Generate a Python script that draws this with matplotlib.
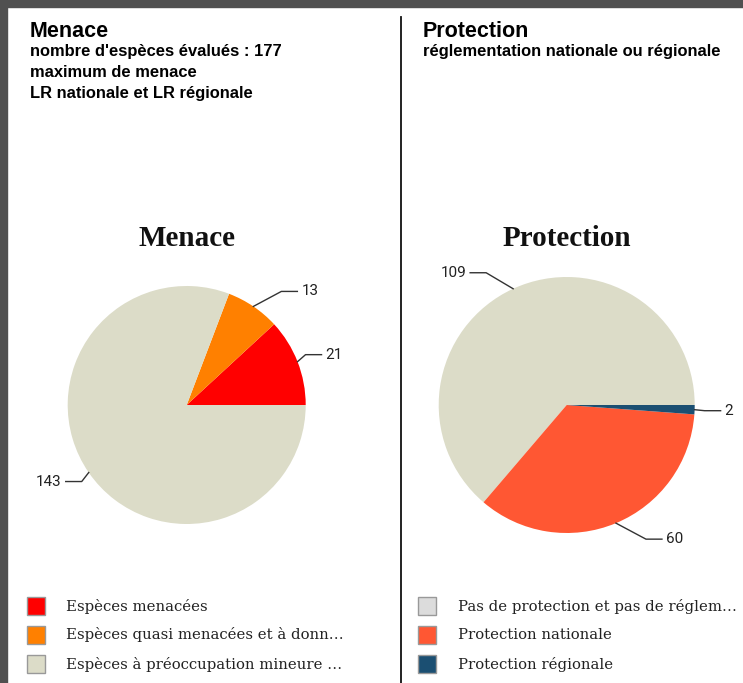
import numpy as np
import matplotlib
matplotlib.use("Agg")
import matplotlib.pyplot as plt
from matplotlib.patches import Rectangle

W, H = 743, 683

# data
menace_labels = ["Espèces menacées",
                 "Espèces quasi menacées et à donn…",
                 "Espèces à préoccupation mineure …"]
menace_values = [21, 13, 143]
menace_colors = ["#FF0000", "#FF8000", "#DCDCC8"]
menace_legend_colors = ["#FF0000", "#FF8000", "#DCDCC8"]

protection_labels = ["Pas de protection et pas de réglem…",
                     "Protection nationale",
                     "Protection régionale"]
protection_values = [109, 60, 2]
protection_colors = ["#DCDCC8", "#FF5733", "#1B4F72"]
protection_legend_colors = ["#DCDCDC", "#FF5733", "#1B4F72"]

# leader line elbows, in pixels (x right, y down), one per slice
menace_elbows = [(8, -7), (28, -15), (-7, 9)]
protection_elbows = [(-27, -16), (30, 16), (10, 1)]


def fx(x):
    return x / W


def fy(y):
    return 1 - y / H


fig = plt.figure(figsize=(W / 100, H / 100), dpi=100)
fig.patch.set_facecolor("white")

# dark frame on top and left
fig.patches.append(Rectangle((0, fy(6.5)), 1, 1 - fy(6.5), transform=fig.transFigure,
                             color="#505050", zorder=0))
fig.patches.append(Rectangle((0, 0), fx(7), 1, transform=fig.transFigure,
                             color="#505050", zorder=0))
# divider
fig.add_artist(plt.Line2D([fx(401), fx(401)], [fy(17), 0], transform=fig.transFigure,
                          color="#111111", lw=1.3))

head = dict(family="Liberation Sans", weight="bold", color="black", va="baseline")
fig.text(fx(30), fy(37), "Menace", fontsize=15.5, **head)
fig.text(fx(30), fy(56), "nombre d'espèces évalués : 177", fontsize=11.9, **head)
fig.text(fx(30), fy(77), "maximum de menace", fontsize=11.9, **head)
fig.text(fx(30), fy(98), "LR nationale et LR régionale", fontsize=11.9, **head)
fig.text(fx(423), fy(37), "Protection", fontsize=15.5, **head)
fig.text(fx(423), fy(56), "réglementation nationale ou régionale", fontsize=11.9, **head)


def draw_pie(cx, cy, r, values, colors, elbows, title):
    ax = fig.add_axes([fx(cx - r), fy(cy + r), 2 * r / W, 2 * r / H])
    wedges, _ = ax.pie(values, colors=colors, startangle=0, counterclock=True,
                       radius=1, wedgeprops=dict(linewidth=0))
    ax.set_xlim(-1, 1)
    ax.set_ylim(-1, 1)
    ax.axis("off")
    for w in wedges:
        w.set_clip_on(False)
    for w, v, (ex, ey) in zip(wedges, values, elbows):
        mid = np.deg2rad((w.theta1 + w.theta2) / 2)
        x0, y0 = np.cos(mid), np.sin(mid)
        x1, y1 = x0 + ex / r, y0 - ey / r
        side = 1 if ex > 0 else -1
        x2 = x1 + side * 16 / r
        ax.plot([x0, x1, x2], [y0, y1, y1], color="#333333", lw=1, clip_on=False)
        ax.text(x2 + side * 4 / r, y1, str(v), family="Roboto", fontsize=11,
                color="#222222", ha="left" if side > 0 else "right", va="center",
                clip_on=False)
    fig.text(fx(cx), fy(246), title, family="Liberation Serif", weight="bold",
             fontsize=21, ha="center", va="baseline", color="#111111")


draw_pie(186.7, 405, 119, menace_values, menace_colors, menace_elbows, "Menace")
draw_pie(566.7, 405, 128, protection_values, protection_colors, protection_elbows, "Protection")


def draw_legend(x_box, x_text, labels, colors):
    for i, (lab, col) in enumerate(zip(labels, colors)):
        top = 597 + 29 * i
        fig.patches.append(Rectangle((fx(x_box), fy(top + 18)), 18 / W, 18 / H,
                                     transform=fig.transFigure, facecolor=col,
                                     edgecolor="#999999", lw=1))
        fig.text(fx(x_text), fy(top + 9), lab, family="DejaVu Serif", fontsize=10.7,
                 color="#222222", ha="left", va="center")


draw_legend(27, 66, menace_labels, menace_legend_colors)
draw_legend(418, 458, protection_labels, protection_legend_colors)

fig.savefig("out.png", dpi=100)
